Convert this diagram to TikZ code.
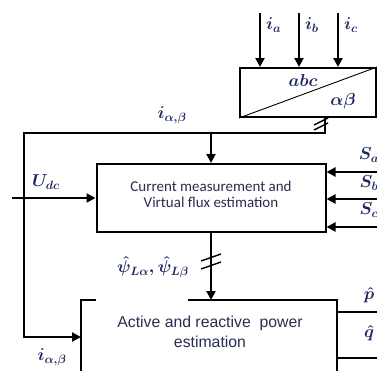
\documentclass[tikz,border=0pt]{standalone}
\usepackage{amsmath}
\usepackage{fontspec}
\newfontfamily\calibrifont{Carlito}
\newfontfamily\arialfont{Liberation Sans}
\usetikzlibrary{arrows.meta,positioning,calc}
\definecolor{labelnavy}{RGB}{30,40,95}
\definecolor{textnavy}{RGB}{40,45,80}

\begin{document}
\begin{tikzpicture}[x=1pt, y=-1pt, >={Triangle[length=9pt,width=9pt]},
    line width=2pt,
    blockbox/.style={draw, line width=2pt, inner sep=0pt},
    siglabel/.style={text=labelnavy, inner sep=0pt, font=\fontsize{18}{20}\selectfont\boldmath},
    slashmark/.style={line width=1.4pt}]

  % --- Frame (picture size) ---
  \useasboundingbox (0,0) rectangle (377,370);
  \clip (0,0) rectangle (377,370);

  % --- abc / alpha-beta transform ---
  \node[blockbox, minimum width=136pt, minimum height=49pt] (xform) at (308,92.5) {};
  \draw[line width=0.9pt] (xform.south west) -- (xform.north east);
  \node[siglabel, font=\fontsize{16}{18}\selectfont\boldmath] (abclbl) at (303,80) {$abc$};
  \node[siglabel, font=\fontsize{16}{18}\selectfont\boldmath] (alblbl) at (343,101) {$\alpha\beta$};

  % --- Phase currents ---
  \foreach \xx/\ph in {260/a, 299/b, 338/c} {
    \coordinate (i\ph) at (\xx,13);
    \draw[->] (i\ph) -- (i\ph |- xform.north);
    \node[siglabel, right=5pt of i\ph, yshift=-12pt] (i\ph lbl) {$i_\ph$};
  }

  % --- Current measurement block ---
  \node[blockbox, minimum width=229pt, minimum height=68pt] (meas) at (211,198) {};
  \node[text=textnavy, align=center, inner sep=0pt,
        font=\calibrifont\fontsize{15}{16}\selectfont] (meastxt) at (211,194)
    {Current measurement and\\Virtual flux estimation};

  % --- Power estimation block (lower edge off the frame) ---
  \node[minimum width=254pt, minimum height=72pt, inner sep=0pt] (power) at (209,337) {};
  \draw (power.north west) ++(15,0) -- (power.north west) -- (power.south west)
    -- (power.south east) -- (power.north east) -- ++(-149,0);
  \node[text=textnavy, align=center, inner sep=0pt,
        font=\arialfont\fontsize{15.8}{20}\selectfont] (powertxt) at (210,332)
    {Active and reactive\ \ power\\estimation};

  % --- i_alpha,beta feedback wire ---
  \coordinate (tap) at (325,133);
  \coordinate (corner) at (24,133);
  \draw[->] (xform.south -| tap) -- (tap) -- (corner) |- (power.west);
  \draw[->] (meas.north |- tap) -- (meas.north);
  \draw[slashmark] (314,125) -- (328,118);
  \draw[slashmark] (314,130) -- (328,123);
  \node[siglabel] (iablbl) at (172,115) {$i_{\alpha,\beta}$};
  \node[siglabel] (iablbl2) at (52,357) {$i_{\alpha,\beta}$};

  % --- DC voltage ---
  \coordinate (udc) at (12,198);
  \draw[->] (udc) -- (meas.west);
  \node[siglabel] (udclbl) at (46,182) {$U_{dc}$};

  % --- Switching states ---
  \foreach \yy/\sw in {172/a, 199/b, 227/c} {
    \coordinate (s\sw) at (390,\yy);
    \draw[->] (s\sw) -- (s\sw -| meas.east);
  }
  \node[siglabel] (salbl) at (369,155) {$S_a$};
  \node[siglabel] (sblbl) at (369,183) {$S_b$};
  \node[siglabel] (sclbl) at (369,210) {$S_c$};

  % --- Virtual flux to power estimation ---
  \draw[->] (meas.south) -- (meas.south |- power.north);
  \draw[slashmark] (201,261) -- (221,254);
  \draw[slashmark] (201,269) -- (221,262);
  \node[siglabel] (psilbl) at (153,267) {$\hat{\psi}_{L\alpha},\hat{\psi}_{L\beta}$};

  % --- Power outputs ---
  \coordinate (pout) at (387,312);
  \coordinate (qout) at (387,358);
  \draw[->] (power.east |- pout) -- (pout);
  \draw[->] (power.east |- qout) -- (qout);
  \node[siglabel] (plbl) at (369,295) {$\hat{p}$};
  \node[siglabel] (qlbl) at (369,333) {$\hat{q}$};

\end{tikzpicture}
\end{document}
